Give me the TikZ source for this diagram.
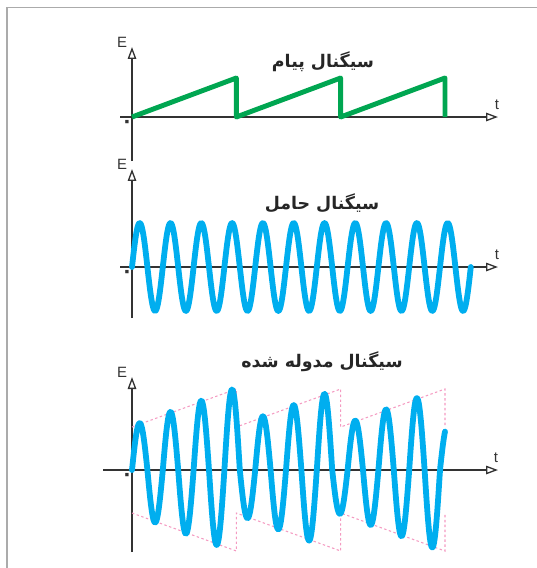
\documentclass[tikz,border=0pt]{standalone}
\usepackage{fontspec}
\setmainfont{Liberation Sans}
\newfontfamily\fafont[Script=Arabic]{DejaVu Sans}
\TeXXeTstate=1
\usetikzlibrary{arrows.meta}
\definecolor{sgframe}{HTML}{ABABAB}
\definecolor{sgdark}{HTML}{333333}
\definecolor{sggreen}{HTML}{00A651}
\definecolor{sgblue}{HTML}{00AEEF}
\definecolor{sgpink}{HTML}{F49AC1}
\tikzset{
  sgaxis/.style={draw=sgdark, line width=0.75pt,
    -{Triangle[open, length=2.4mm, width=1.7mm]}},
  sgsaw/.style={draw=sggreen, line width=2.8pt, line join=round},
  sgwave/.style={draw=sgblue, line width=3.3pt, line cap=round, line join=round},
  sgenv/.style={draw=sgpink, line width=0.6pt, dash pattern=on 1.4pt off 1.4pt},
  sgtitle/.style={font=\fafont\bfseries\fontsize{9.9}{12}\selectfont, text=black!85},
  sglabel/.style={font=\fontsize{8.5}{10}\selectfont, text=sgdark, inner sep=0pt},
  sgzero/.style={font=\fafont\bfseries\fontsize{11}{11}\selectfont, text=sgdark, inner sep=0pt}
}

\begin{document}
\begin{tikzpicture}[x=0.02cm, y=-0.02cm,
  declare function={halfc(\u)=132+(floor((\u-132)/15.4)+0.5)*15.4;
    envamp(\u)=43+38*(mod(\u-132,104.33)/104.33);
    carph(\u)=((\u-132)/30.8)*360;}]
  \useasboundingbox (0,0) rectangle (537,568);
  \draw[draw=sgframe, line width=0.85pt] (537,7.5) -- (7,7.5) -- (7,568);

  % message signal
  \coordinate (o1) at (132,117);
  \coordinate (y1b) at (132,161);
  \coordinate (y1t) at (132,47);
  \coordinate (x1l) at (120,117);
  \coordinate (x1r) at (498,117);
  \draw[sgaxis] (y1b) -- (y1t);
  \draw[sgaxis] (x1l) -- (x1r);
  \node[sglabel] (e1) at (122,42) {E};
  \node[sglabel] (t1) at (497,105) {t};
  \node[sgzero] (z1) at (127,124) {۰};
  \node[sgtitle] (msg) at (323,62) {\beginR سیگنال پیام\endR};
  \draw[sgsaw] (o1) \foreach \k in {1,2,3} { -- ({132+104.33*\k},78) -- ++(0,39) };

  % carrier signal
  \coordinate (o2) at (132,267);
  \coordinate (y2b) at (132,318);
  \coordinate (y2t) at (132,169);
  \coordinate (x2l) at (120,267);
  \coordinate (x2r) at (498,267);
  \draw[sgaxis] (y2b) -- (y2t);
  \draw[sgaxis] (x2l) -- (x2r);
  \node[sglabel] (e2) at (122,164) {E};
  \node[sglabel] (t2) at (497,255) {t};
  \node[sgzero] (z2) at (127,274) {۰};
  \node[sgtitle] (car) at (322,203) {\beginR سیگنال حامل\endR};
  \draw[sgwave] plot[domain=132:470.8, samples=500]
    (\x, {267-44*sin(carph(\x))});

  % modulated signal
  \coordinate (o3) at (132,470);
  \coordinate (y3b) at (132,552);
  \coordinate (y3t) at (132,377);
  \coordinate (x3l) at (103,470);
  \coordinate (x3r) at (498,470);
  \draw[sgaxis] (y3b) -- (y3t);
  \draw[sgaxis] (x3l) -- (x3r);
  \node[sglabel] (e3) at (122,372) {E};
  \node[sglabel] (t3) at (496,458) {t};
  \node[sgzero] (z3) at (127,477) {۰};
  \node[sgtitle] (mod) at (322,362) {\beginR سیگنال مدوله شده\endR};
  \draw[sgenv] (132,427) \foreach \k in {1,2,3} { -- ({132+104.33*\k},389) -- ++(0,38) };
  \draw[sgenv] (132,513) \foreach \k in {1,2,3} { -- ({132+104.33*\k},551) -- ++(0,-38) };
  \draw[sgwave] plot[domain=132:445, samples=600]
    (\x, {470-envamp(halfc(\x)+3)*sin(carph(\x))});
\end{tikzpicture}
\end{document}
